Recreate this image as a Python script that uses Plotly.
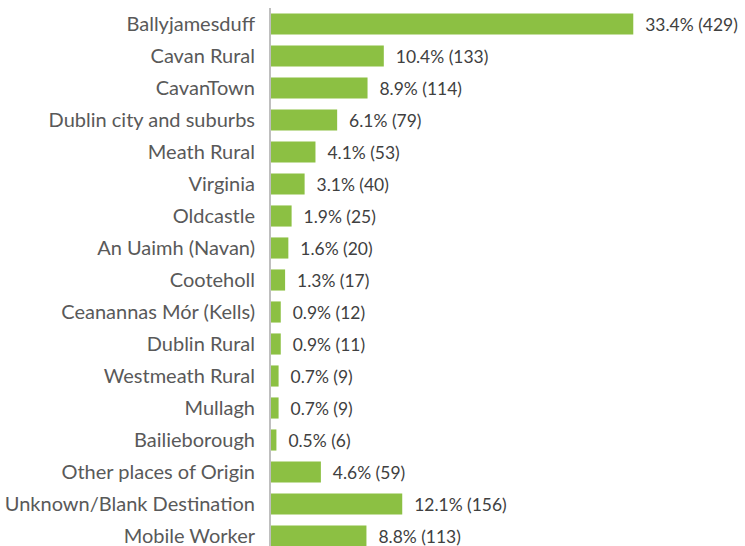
import plotly.graph_objects as go

categories = ["Ballyjamesduff", "Cavan Rural", "CavanTown", "Dublin city and suburbs",
              "Meath Rural", "Virginia", "Oldcastle", "An Uaimh (Navan)", "Cooteholl",
              "Ceanannas Mór (Kells)", "Dublin Rural", "Westmeath Rural", "Mullagh",
              "Bailieborough", "Other places of Origin", "Unknown/Blank Destination",
              "Mobile Worker"]
percent = [33.4, 10.4, 8.9, 6.1, 4.1, 3.1, 1.9, 1.6, 1.3, 0.9, 0.9, 0.7, 0.7, 0.5, 4.6, 12.1, 8.8]
counts = [429, 133, 114, 79, 53, 40, 25, 20, 17, 12, 11, 9, 9, 6, 59, 156, 113]

labels = [f"  {p}% ({c})" for p, c in zip(percent, counts)]

fig = go.Figure(go.Bar(
    y=categories, x=percent, orientation="h",
    marker=dict(color="#8CC043", line=dict(width=0)),
    text=labels, textposition="outside", cliponaxis=False,
    textfont=dict(family="Lato", size=19, color="#404040"),
    width=0.66,
))

fig.update_layout(
    width=745, height=546,
    margin=dict(l=271, r=0, t=8, b=0),
    paper_bgcolor="white", plot_bgcolor="white",
    showlegend=False,
    font=dict(family="Lato", size=20, color="#595959"),
    xaxis=dict(range=[0, 43.7], visible=False, fixedrange=True),
    yaxis=dict(categoryorder="array", categoryarray=categories,
               range=[-0.5 + 538 / 32, -0.5],
               showline=True, linecolor="#BFBFBF", linewidth=2,
               ticks="", ticklabelstandoff=10, showgrid=False,
               tickfont=dict(family="Lato", size=20, color="#595959")),
)

fig.write_html("out.html", config={"displayModeBar": False},
               post_script="document.body.style.margin='0';document.body.style.overflow='hidden';")
